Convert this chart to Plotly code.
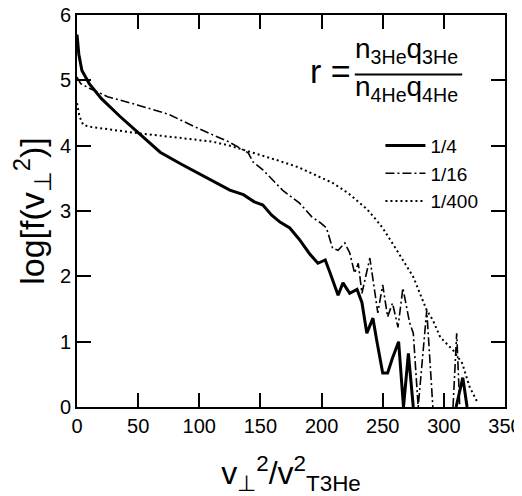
import plotly.graph_objects as go

# r = 1/4
x_quarter = [0, 1.5, 4, 10, 20, 35, 50, 68, 85, 100, 115, 125, 136, 145, 152, 155, 159, 166,
             174, 182, 190, 197, 203, 207, 213.5, 217.5, 223, 229, 233, 237, 242, 245, 250, 254,
             258, 263, 267, 271, 275, None, 310, 315.5, 319]
y_quarter = [5.7, 5.4, 5.15, 4.95, 4.72, 4.45, 4.2, 3.9, 3.72, 3.57, 3.42, 3.32, 3.25, 3.14, 3.09,
             3.02, 2.94, 2.83, 2.74, 2.56, 2.35, 2.2, 2.25, 2.05, 1.71, 1.9, 1.74, 1.8, 1.6, 1.13,
             1.36, 1.03, 0.52, 0.52, 0.75, 1.0, 0.0, 0.82, 0.0, None, 0.0, 0.45, 0.0]

# r = 1/16
x_sixteenth = [0, 3, 10, 25, 50, 75, 95, 110, 125, 140, 144, 152, 160, 168, 175, 182, 192, 199,
               204, 209, 213.5, 219, 223, 227, 230, 233, 239.5, 246, 250, 254, 258, 262.5, 266.5,
               272, 275, 279, 286, 291, None, 307.5, 310.5, 313]
y_sixteenth = [5.05, 4.95, 4.88, 4.75, 4.62, 4.48, 4.3, 4.18, 4.05, 3.89, 3.75, 3.63, 3.48, 3.32,
               3.22, 3.12, 2.91, 2.82, 2.74, 2.43, 2.4, 2.51, 2.36, 2.05, 2.2, 1.74, 2.28, 1.44,
               1.87, 1.38, 1.59, 1.22, 1.82, 1.29, 1.13, 0.0, 1.48, 0.0, None, 0.0, 1.13, 0.0]

# r = 1/400
x_400 = [0, 2, 5, 10, 30, 50, 84, 100, 111, 125, 139, 150, 165, 181, 195, 209, 222, 237, 244,
         250, 261.5, 268, 275, 286, 291, 297, 307.5, 315, 321, 328]
y_400 = [4.65, 4.45, 4.32, 4.29, 4.24, 4.19, 4.12, 4.09, 4.06, 4.0, 3.92, 3.86, 3.77, 3.67, 3.55,
         3.43, 3.27, 3.03, 2.88, 2.74, 2.4, 2.2, 1.99, 1.48, 1.33, 1.07, 0.87, 0.67, 0.31, 0.05]

series_names = ['1/4', '1/16', '1/400']

FONT = 'Liberation Sans, Arial, sans-serif'

fig = go.Figure()
fig.add_trace(go.Scatter(x=x_quarter, y=y_quarter, mode='lines', name=series_names[0],
                         line=dict(color='black', width=3)))
fig.add_trace(go.Scatter(x=x_sixteenth, y=y_sixteenth, mode='lines', name=series_names[1],
                         line=dict(color='black', width=1.6, dash='9px,3px,2px,3px')))
fig.add_trace(go.Scatter(x=x_400, y=y_400, mode='lines', name=series_names[2],
                         line=dict(color='black', width=2, dash='2px,3px')))

axis_style = dict(
    showline=True, linecolor='black', linewidth=2, mirror='ticks',
    ticks='inside', ticklen=14, tickwidth=2, tickcolor='black',
    showgrid=False, zeroline=False, automargin=False, ticklabeloverflow='allow',
    tickfont=dict(family=FONT, size=20, color='black'),
)

fig.update_xaxes(range=[0, 350], dtick=50, **axis_style,
                 title=dict(text='v<sub>⊥</sub><sup>2</sup>/v<sup>2</sup><sub>T3He</sub>',
                            font=dict(family=FONT, size=32, color='black'), standoff=30))
fig.update_yaxes(range=[0, 6], dtick=1, **axis_style,
                 title=dict(text='log[f(v<sub>⊥</sub><sup>2</sup>)]',
                            font=dict(family=FONT, size=34, color='black'), standoff=8))

# formula for r
fig.add_annotation(x=0.54, y=0.857, xref='paper', yref='paper', xanchor='left', yanchor='middle',
                   text='r =', showarrow=False, font=dict(family=FONT, size=34, color='black'))
fig.add_annotation(x=0.77, y=0.86, xref='paper', yref='paper', xanchor='center', yanchor='bottom',
                   text='n<sub>3He</sub>q<sub>3He</sub>', showarrow=False,
                   font=dict(family=FONT, size=28, color='black'))
fig.add_annotation(x=0.77, y=0.863, xref='paper', yref='paper', xanchor='center', yanchor='top',
                   text='n<sub>4He</sub>q<sub>4He</sub>', showarrow=False,
                   font=dict(family=FONT, size=28, color='black'))
fig.add_shape(type='line', xref='paper', yref='paper', x0=0.649, x1=0.9, y0=0.848, y1=0.848,
              line=dict(color='black', width=2))

fig.update_layout(
    width=514, height=488,
    margin=dict(l=69, r=17, t=7, b=89),
    plot_bgcolor='white', paper_bgcolor='white',
    font=dict(family=FONT, color='black'),
    legend=dict(x=0.709, y=0.715, xanchor='left', yanchor='top', bgcolor='rgba(0,0,0,0)',
                font=dict(family=FONT, size=19, color='black'), itemwidth=40),
)

fig.write_html('out.html')
